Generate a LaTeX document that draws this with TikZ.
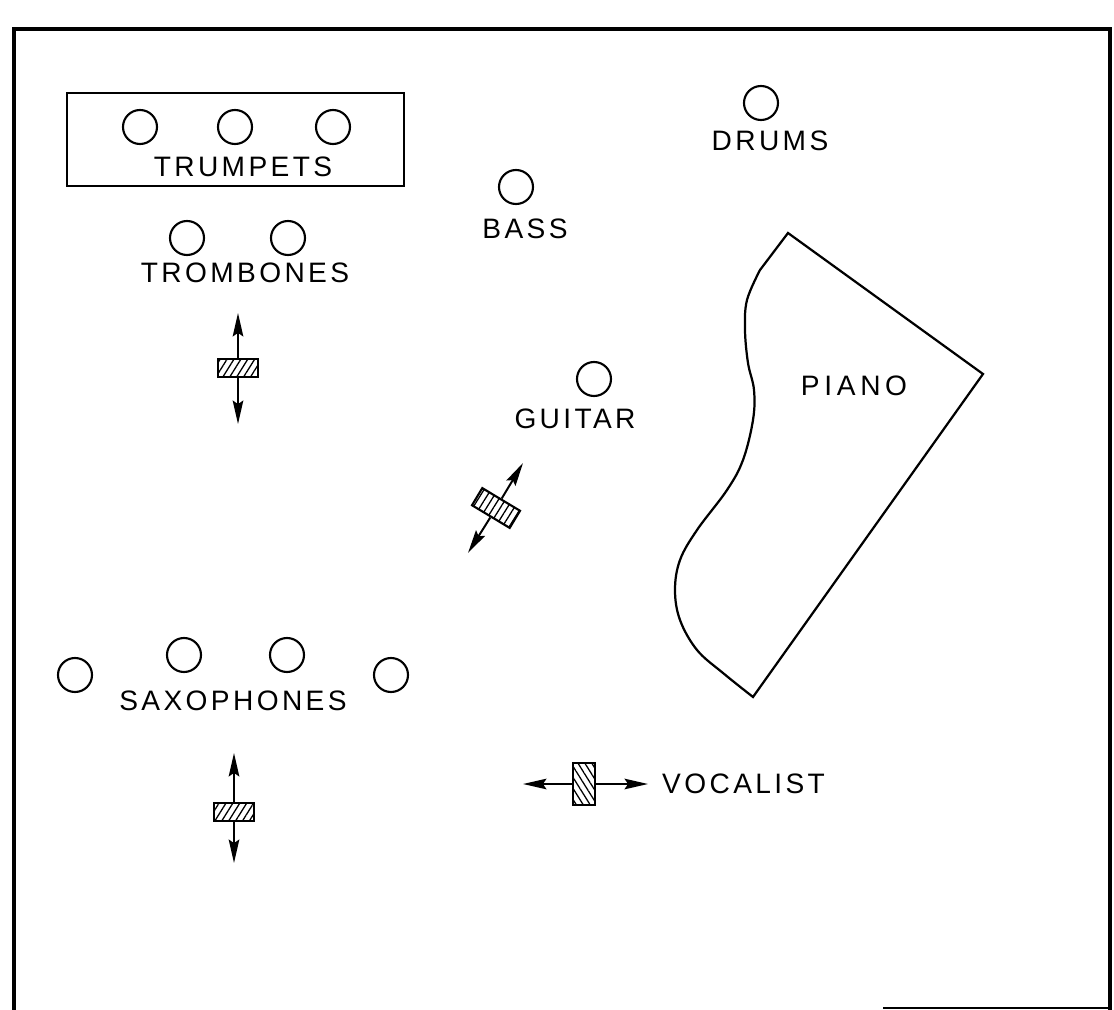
\documentclass[tikz,border=0pt]{standalone}
\usepackage{fontspec}
\setmainfont[LetterSpace=12]{Liberation Sans}
\usetikzlibrary{arrows.meta,patterns.meta}
\begin{document}
\begin{tikzpicture}[x=0.03cm,y=-0.03cm,
    player/.style={circle,draw,line width=1.8pt,minimum size=1.02cm,inner sep=0pt},
    lbl/.style={font=\fontsize{24}{28}\selectfont,inner sep=0pt},
    mic/.style={draw,line width=1.8pt,minimum width=1.2cm,minimum height=0.56cm,inner sep=0pt,
      preaction={fill=white},pattern={Lines[angle=58,distance=5pt,line width=1.1pt]}},
    ray/.style={line width=1.7pt,-{Stealth[length=20pt,width=9pt,inset=3pt]}}]
  \useasboundingbox (0,0) rectangle (1114,1010);
  % frame
  \draw[line width=2.8pt] (14,1010) -- (14,29) -- (1110,29) -- (1110,1010);
  \draw[line width=1.5pt] (883,1008) -- (1110,1008);
  % trumpets
  \draw[line width=1.8pt] (67,93) rectangle (404,186);
  \node[player] (tp1) at (140,127) {};
  \node[player] (tp2) at (235,127) {};
  \node[player] (tp3) at (333,127) {};
  \node[lbl] (trumpets) at (243,167) {TRUMPETS};
  % trombones
  \node[player] (tb1) at (187,238) {};
  \node[player] (tb2) at (288,238) {};
  \node[lbl] (trombones) at (245,273) {TROMBONES};
  % rhythm
  \node[player] (drums) at (761,103) {};
  \node[lbl] (drumslbl) at (770,141) {DRUMS};
  \node[player] (bass) at (516,187) {};
  \node[lbl] (basslbl) at (525,229) {BASS};
  \node[player] (guitar) at (594,379) {};
  \node[lbl] (guitarlbl) at (575,419) {GUITAR};
  % piano
  \draw[line width=1.9pt] plot[smooth,tension=0.6] coordinates {(753,697) (723,673) (697,650)
      (680,620) (675,590) (680,560) (697,530) (727,490) (743,460) (753,420) (754,390)
      (748,363) (745,330) (747,300) (760,270)} -- (788,233) -- (983,374) -- cycle;
  \node[lbl] (pianolbl) at (854,386) {P\,I\,A\,N\,O};
  % saxophones
  \node[player] (sx1) at (75,675) {};
  \node[player] (sx2) at (184,655) {};
  \node[player] (sx3) at (287,655) {};
  \node[player] (sx4) at (391,675) {};
  \node[lbl] (saxlbl) at (233,701) {SAXOPHONES};
  % microphones
  \coordinate (m1up) at (238,313);
  \coordinate (m1dn) at (238,424);
  \node[mic] (m1) at (238,368) {};
  \draw[ray] (m1.north) -- (m1up);
  \draw[ray] (m1.south) -- (m1dn);
  \coordinate (m2up) at (523,463);
  \coordinate (m2dn) at (468,553);
  \node[mic,rotate=-31,minimum width=1.32cm,minimum height=0.6cm] (m2) at (496,508) {};
  \draw[ray] (m2.north) -- (m2up);
  \draw[ray] (m2.south) -- (m2dn);
  \coordinate (m3up) at (234,753);
  \coordinate (m3dn) at (234,863);
  \node[mic] (m3) at (234,812) {};
  \draw[ray] (m3.north) -- (m3up);
  \draw[ray] (m3.south) -- (m3dn);
  \coordinate (m4lt) at (523,784);
  \coordinate (m4rt) at (648,784);
  \node[mic,minimum width=0.66cm,minimum height=1.24cm,
    pattern={Lines[angle=-58,distance=5pt,line width=1.1pt]}] (m4) at (584,784) {};
  \draw[ray] (m4.west) -- (m4lt);
  \draw[ray] (m4.east) -- (m4rt);
  \node[lbl,anchor=west] (vocalist) at (662,784) {VOCALIST};
\end{tikzpicture}
\end{document}
